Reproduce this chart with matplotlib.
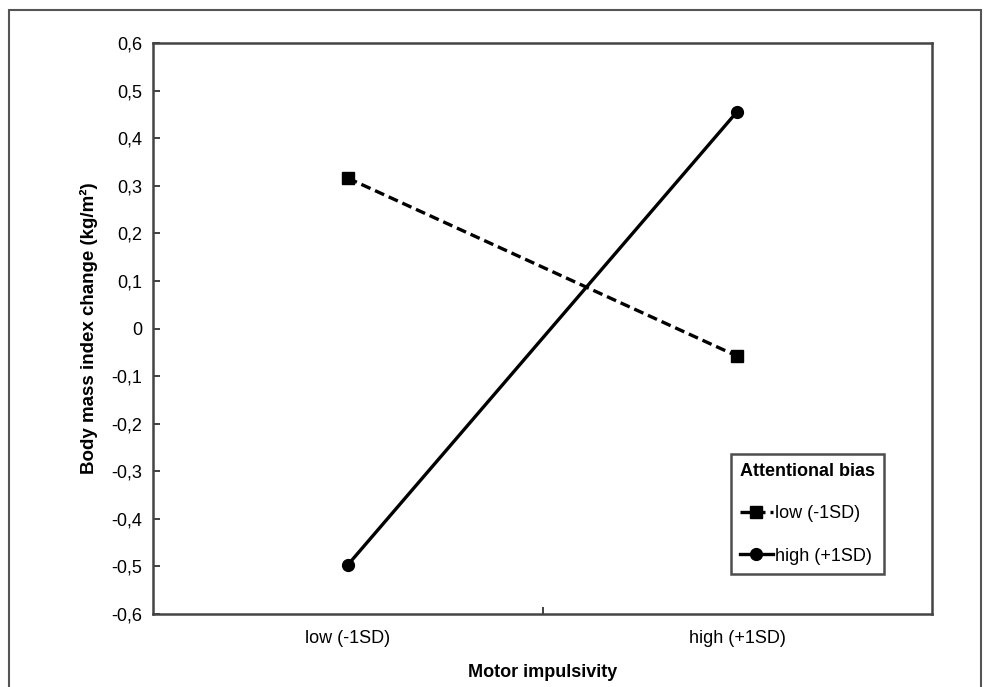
import matplotlib
matplotlib.use("Agg")
from matplotlib import pyplot as plt
from matplotlib.lines import Line2D

# dati
categorie = ["low (-1SD)", "high (+1SD)"]
bias_basso = [0.316, -0.058]
bias_alto = [-0.497, 0.456]
yticks = [-0.6, -0.5, -0.4, -0.3, -0.2, -0.1, 0.0, 0.1, 0.2, 0.3, 0.4, 0.5, 0.6]

plt.rcParams["font.family"] = ["Liberation Sans", "DejaVu Sans"]

fig = plt.figure(figsize=(9.84, 6.87), dpi=100)
ax = fig.add_axes([153 / 984, 1 - 614 / 687, 779 / 984, 571 / 687])

x = range(len(categorie))
ax.plot(x, bias_basso, color="black", lw=2.4, ls=(0, (3, 1.5)),
        marker="s", ms=8.5, label="low (-1SD)")
ax.plot(x, bias_alto, color="black", lw=2.4, marker="o", ms=8.5,
        label="high (+1SD)")

ax.set_xlim(-0.5, 1.5)
ax.set_ylim(-0.6, 0.6)
ax.set_yticks(yticks)
ax.set_yticklabels(["0" if abs(v) < 1e-9 else "{:.1f}".format(v).replace(".", ",")
                    for v in yticks])
ax.set_xticks([0.5])
ax.set_xticklabels([""])
for i, c in enumerate(categorie):
    ax.text(i, -0.633, c, ha="center", va="top", fontsize=13,
            transform=ax.transData)
ax.tick_params(direction="in", length=5, width=1.3, colors="#333333",
               labelcolor="black", labelsize=13, pad=8)
for s in ax.spines.values():
    s.set_linewidth(1.8)
    s.set_color("#444444")

ax.set_xlabel("Motor impulsivity", fontsize=13, fontweight="bold", labelpad=28)
ax.set_ylabel("Body mass index change (kg/m²)", fontsize=13.5,
              fontweight="bold", labelpad=9)

handles = [
    Line2D([], [], color="black", lw=2.4, ls=(0, (3, 1.5)), marker="s", ms=8.5),
    Line2D([], [], color="black", lw=2.4, marker="o", ms=8.5),
]
leg = ax.legend(handles, ["low (-1SD)", "high (+1SD)"], title="Attentional bias",
                loc="upper left", bbox_to_anchor=((731 - 153) / 779, (614 - 454) / 571),
                fontsize=13, title_fontproperties={"weight": "bold", "size": 13},
                frameon=True, fancybox=False, edgecolor="#222222",
                handlelength=1.8, handletextpad=0.15, labelspacing=1.4,
                borderpad=0.5, borderaxespad=0)
leg.get_frame().set_linewidth(1.8)
leg._legend_box.align = "left"

# cornice esterna
fig.add_artist(plt.Rectangle((9 / 984, -0.01), (981 - 9) / 984, (687 - 10) / 687 + 0.01,
                             transform=fig.transFigure, fill=False,
                             edgecolor="#555555", lw=1.5))

fig.savefig("out.png", dpi=100)
